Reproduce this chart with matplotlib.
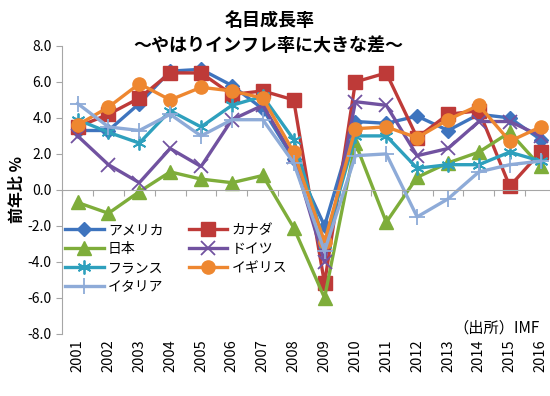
import numpy as np
import matplotlib
matplotlib.use('Agg')
import matplotlib.pyplot as plt

plt.rcParams['font.family'] = ['Noto Sans CJK JP', 'DejaVu Sans']

years = ['2001', '2002', '2003', '2004', '2005', '2006', '2007', '2008',
         '2009', '2010', '2011', '2012', '2013', '2014', '2015', '2016']

usa = [3.3, 3.3, 4.8, 6.6, 6.7, 5.8, 4.5, 1.7, -2.0, 3.8, 3.7, 4.1, 3.3, 4.2, 4.0, 2.8]
canada = [3.5, 4.2, 5.1, 6.5, 6.5, 5.3, 5.5, 5.0, -5.2, 6.0, 6.5, 2.9, 4.2, 4.4, 0.2, 2.1]
japan = [-0.7, -1.3, -0.1, 1.0, 0.6, 0.4, 0.8, -2.1, -6.0, 2.6, -1.8, 0.7, 1.5, 2.1, 3.2, 1.3]
germany = [3.0, 1.4, 0.4, 2.3, 1.3, 3.9, 4.7, 1.8, -4.0, 4.9, 4.7, 1.9, 2.3, 3.8, 3.8, 3.0]
france = [3.9, 3.2, 2.6, 4.4, 3.5, 4.7, 5.2, 2.8, -3.0, 3.0, 3.0, 1.2, 1.4, 1.4, 2.1, 1.6]
uk = [3.6, 4.6, 5.9, 5.0, 5.7, 5.5, 5.1, 2.1, -2.9, 3.4, 3.5, 2.9, 3.9, 4.7, 2.7, 3.5]
italy = [4.8, 3.5, 3.3, 4.2, 3.0, 3.9, 3.9, 1.5, -3.4, 1.9, 2.0, -1.5, -0.5, 1.0, 1.4, 1.6]

fig = plt.figure(figsize=(5.5, 3.96), dpi=100)
ax = fig.add_axes([0.113, 0.157, 0.898, 0.727])

x = np.arange(len(years))
lw = 2.4
ax.plot(x, usa, color='#3E74BE', marker='D', ms=7, lw=lw, label='アメリカ')
ax.plot(x, canada, color='#BE3A38', marker='s', ms=9.5, lw=lw, label='カナダ')
ax.plot(x, japan, color='#7EAD3A', marker='^', ms=9.5, lw=lw, label='日本')
ax.plot(x, germany, color='#7152A0', marker='x', ms=10, mew=1.3, lw=lw, label='ドイツ')
ax.plot(x, france, color='#2EA0BD', marker=(6, 2, 0), ms=10, mew=1.3, lw=lw, label='フランス')
ax.plot(x, uk, color='#EE8730', marker='o', ms=9.5, lw=lw, label='イギリス')
ax.plot(x, italy, color='#8EABD8', marker='+', ms=11, mew=1.3, lw=lw, label='イタリア')

ax.set_ylim(-8, 8)
ax.set_xlim(-0.5, len(years) - 0.5)
ax.set_yticks(np.arange(-8, 9, 2))
ax.set_yticklabels(['%.1f' % v for v in np.arange(-8, 9, 2)], fontsize=10)

for s in ['top', 'right']:
    ax.spines[s].set_visible(False)
ax.spines['left'].set_color('#A6A6A6')
ax.spines['bottom'].set_color('#A6A6A6')
ax.spines['bottom'].set_position(('data', 0))
ax.tick_params(axis='y', color='#A6A6A6', length=4, direction='out')
ax.set_xticks(np.arange(-0.5, len(years), 1))
ax.set_xticklabels([])
ax.tick_params(axis='x', color='#A6A6A6', length=4, direction='out')

sec = ax.secondary_xaxis('bottom')
sec.set_xticks(x)
sec.set_xticklabels(years, rotation=90, fontsize=10.5)
sec.tick_params(length=0, pad=4)
sec.spines['bottom'].set_visible(False)

ax.set_ylabel('前年比 %', fontsize=11.5, fontweight='bold', labelpad=2)

fig.text(0.49, 0.948, '名目成長率', ha='center', va='center', fontsize=13, fontweight='bold')
fig.text(0.488, 0.884, '〜やはりインフレ率に大きな差〜', ha='center', va='center',
         fontsize=13, fontweight='bold')
fig.text(0.825, 0.172, '（出所）IMF', ha='left', va='center', fontsize=11)

h, l = ax.get_legend_handles_labels()
order = [0, 2, 4, 6, 1, 3, 5]
ax.legend([h[i] for i in order], [l[i] for i in order], ncol=2, frameon=False,
          loc='upper left', bbox_to_anchor=(0.108, 0.45), bbox_transform=fig.transFigure,
          fontsize=10, handlelength=2.8, labelspacing=0.35, columnspacing=1.8,
          handletextpad=0.3, borderaxespad=0)

fig.savefig('out.png', dpi=100)
